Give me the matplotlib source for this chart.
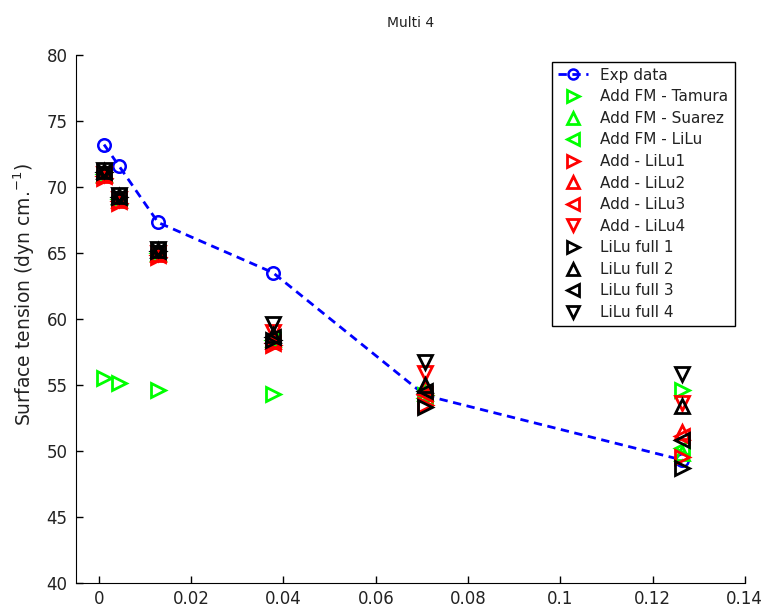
import matplotlib
matplotlib.use("Agg")
import matplotlib.pyplot as plt

x = [0.0011, 0.0043, 0.0128, 0.0377, 0.0707, 0.1265]

exp_data = [73.2, 71.6, 67.3, 63.5, 54.2, 49.3]
fm_tamura = [55.5, 55.1, 54.6, 54.3, 54.2, 54.6]
fm_suarez = [71.0, 69.2, 65.0, 58.5, 54.4, 49.8]
fm_lilu = [71.0, 69.1, 65.0, 58.4, 54.0, 50.2]
add_lilu1 = [70.7, 68.8, 64.7, 58.0, 53.5, 49.5]
add_lilu2 = [70.9, 69.0, 64.9, 58.3, 54.8, 51.4]
add_lilu3 = [70.8, 68.9, 64.8, 58.2, 54.3, 51.1]
add_lilu4 = [71.0, 69.1, 65.0, 59.0, 55.9, 53.6]
full1 = [71.1, 69.2, 65.1, 58.4, 53.3, 48.7]
full2 = [71.2, 69.3, 65.2, 58.8, 55.0, 53.4]
full3 = [71.1, 69.2, 65.1, 58.6, 54.5, 50.8]
full4 = [71.3, 69.4, 65.3, 59.6, 56.7, 55.8]

series = [
    ("Add FM - Tamura", fm_tamura, "#00ff00", ">"),
    ("Add FM - Suarez", fm_suarez, "#00ff00", "^"),
    ("Add FM - LiLu", fm_lilu, "#00ff00", "<"),
    ("Add - LiLu1", add_lilu1, "#ff0000", ">"),
    ("Add - LiLu2", add_lilu2, "#ff0000", "^"),
    ("Add - LiLu3", add_lilu3, "#ff0000", "<"),
    ("Add - LiLu4", add_lilu4, "#ff0000", "v"),
    ("LiLu full 1", full1, "#000000", ">"),
    ("LiLu full 2", full2, "#000000", "^"),
    ("LiLu full 3", full3, "#000000", "<"),
    ("LiLu full 4", full4, "#000000", "v"),
]

plt.rcParams['font.family'] = ['DejaVu Sans']

fig = plt.figure(figsize=(7.67, 6.09), dpi=100)
ax = fig.add_axes([0.099, 0.043, 0.872, 0.867])

ax.plot(x, exp_data, linestyle='--', color='#0000ff', lw=2, marker='o',
        markersize=9, markerfacecolor='none', markeredgewidth=1.8,
        dashes=(3, 2), label='Exp data')
for label, vals, col, mk in series:
    ax.plot(x, vals, linestyle='none', marker=mk, markersize=10.5,
            markerfacecolor='none', markeredgecolor=col, markeredgewidth=2,
            label=label)

ax.set_xlim(-0.005, 0.14)
ax.set_ylim(40, 80)
ax.set_xticks([0, 0.02, 0.04, 0.06, 0.08, 0.1, 0.12, 0.14])
ax.set_xticklabels(['0', '0.02', '0.04', '0.06', '0.08', '0.1', '0.12', '0.14'])
ax.set_yticks(range(40, 81, 5))
ax.spines['top'].set_visible(False)
ax.spines['right'].set_visible(False)
for t in ax.get_xticklabels() + ax.get_yticklabels():
    t.set_color('#222222')
ax.tick_params(direction='in', length=5, labelsize=12, width=1)
ax.tick_params(axis='x', pad=5)
ax.tick_params(axis='y', pad=6)
ax.set_ylabel('Surface tension (dyn cm.$^{-1}$)', fontsize=13.5, color='#222222')
ax.yaxis.set_label_coords(-0.058, 0.545)
ax.set_title('Multi 4', fontsize=10, pad=20, color='#222222')

leg = ax.legend(loc='upper right', bbox_to_anchor=(0.985, 0.987), fontsize=11,
                frameon=True, fancybox=False, borderaxespad=0, handlelength=2.0,
                labelspacing=0.43, borderpad=0.4, handletextpad=0.8, markerscale=0.8)
leg.get_frame().set_edgecolor('black')
leg.get_frame().set_linewidth(1)
leg.get_frame().set_alpha(1)
for t in leg.get_texts():
    t.set_color('#222222')

fig.savefig('out.png', dpi=100)
